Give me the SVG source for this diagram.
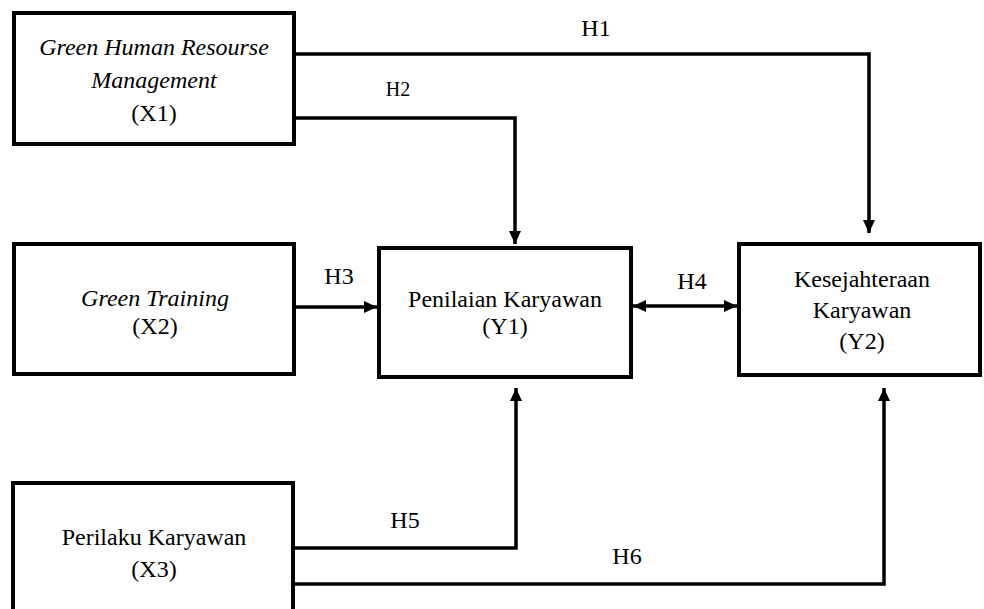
<svg xmlns="http://www.w3.org/2000/svg" width="984" height="609" viewBox="0 0 984 609">
<style>
.box{fill:#fff;stroke:#000;stroke-width:4}
.t{font-family:"Liberation Serif","Times New Roman",serif;font-size:24px;fill:#000;text-anchor:middle}
.it{font-style:italic}
.lbl{font-family:"Liberation Serif","Times New Roman",serif;font-size:24px;fill:#000;text-anchor:middle}
.c{fill:none;stroke:#000;stroke-width:3.5}
</style>
<defs>
<marker id="ah" markerUnits="userSpaceOnUse" markerWidth="13" markerHeight="12" refX="13" refY="6" orient="auto-start-reverse">
<path d="M0,0 L13,6 L0,12 z" fill="#000"/>
</marker>
</defs>
<rect width="984" height="609" fill="#fff"/>
<g id="connectors">
<polyline class="c" points="294,54 869,54 869,233" marker-end="url(#ah)"/>
<polyline class="c" points="294,118 515,118 515,244" marker-end="url(#ah)"/>
<line class="c" x1="294" y1="307" x2="377" y2="307" marker-end="url(#ah)"/>
<line class="c" x1="633" y1="306" x2="737" y2="306" marker-start="url(#ah)" marker-end="url(#ah)"/>
<polyline class="c" points="293,548 516,548 516,388" marker-end="url(#ah)"/>
<polyline class="c" points="293,584 884,584 884,388" marker-end="url(#ah)"/>
<text class="lbl" x="596" y="36">H1</text>
<text class="lbl" x="398" y="96" style="font-size:20px">H2</text>
<text class="lbl" x="339" y="284">H3</text>
<text class="lbl" x="692" y="289">H4</text>
<text class="lbl" x="405" y="528">H5</text>
<text class="lbl" x="627" y="564">H6</text>
</g>
<g id="X1">
<rect class="box" x="14" y="13" width="280" height="131"/>
<text class="t it" x="154" y="55">Green Human Resourse</text>
<text class="t it" x="154" y="88">Management</text>
<text class="t" x="154" y="121">(X1)</text>
</g>
<g id="X2">
<rect class="box" x="14" y="244" width="280" height="130"/>
<text class="t it" x="155" y="306">Green Training</text>
<text class="t" x="155" y="334">(X2)</text>
</g>
<g id="X3">
<rect class="box" x="13" y="483" width="280" height="140"/>
<text class="t" x="154" y="545">Perilaku Karyawan</text>
<text class="t" x="154" y="577">(X3)</text>
</g>
<g id="Y1">
<rect class="box" x="379" y="248" width="252" height="129"/>
<text class="t" x="505" y="307">Penilaian Karyawan</text>
<text class="t" x="505" y="334">(Y1)</text>
</g>
<g id="Y2">
<rect class="box" x="739" y="244" width="241" height="131"/>
<text class="t" x="862" y="287">Kesejahteraan</text>
<text class="t" x="862" y="318">Karyawan</text>
<text class="t" x="862" y="349">(Y2)</text>
</g>
</svg>
